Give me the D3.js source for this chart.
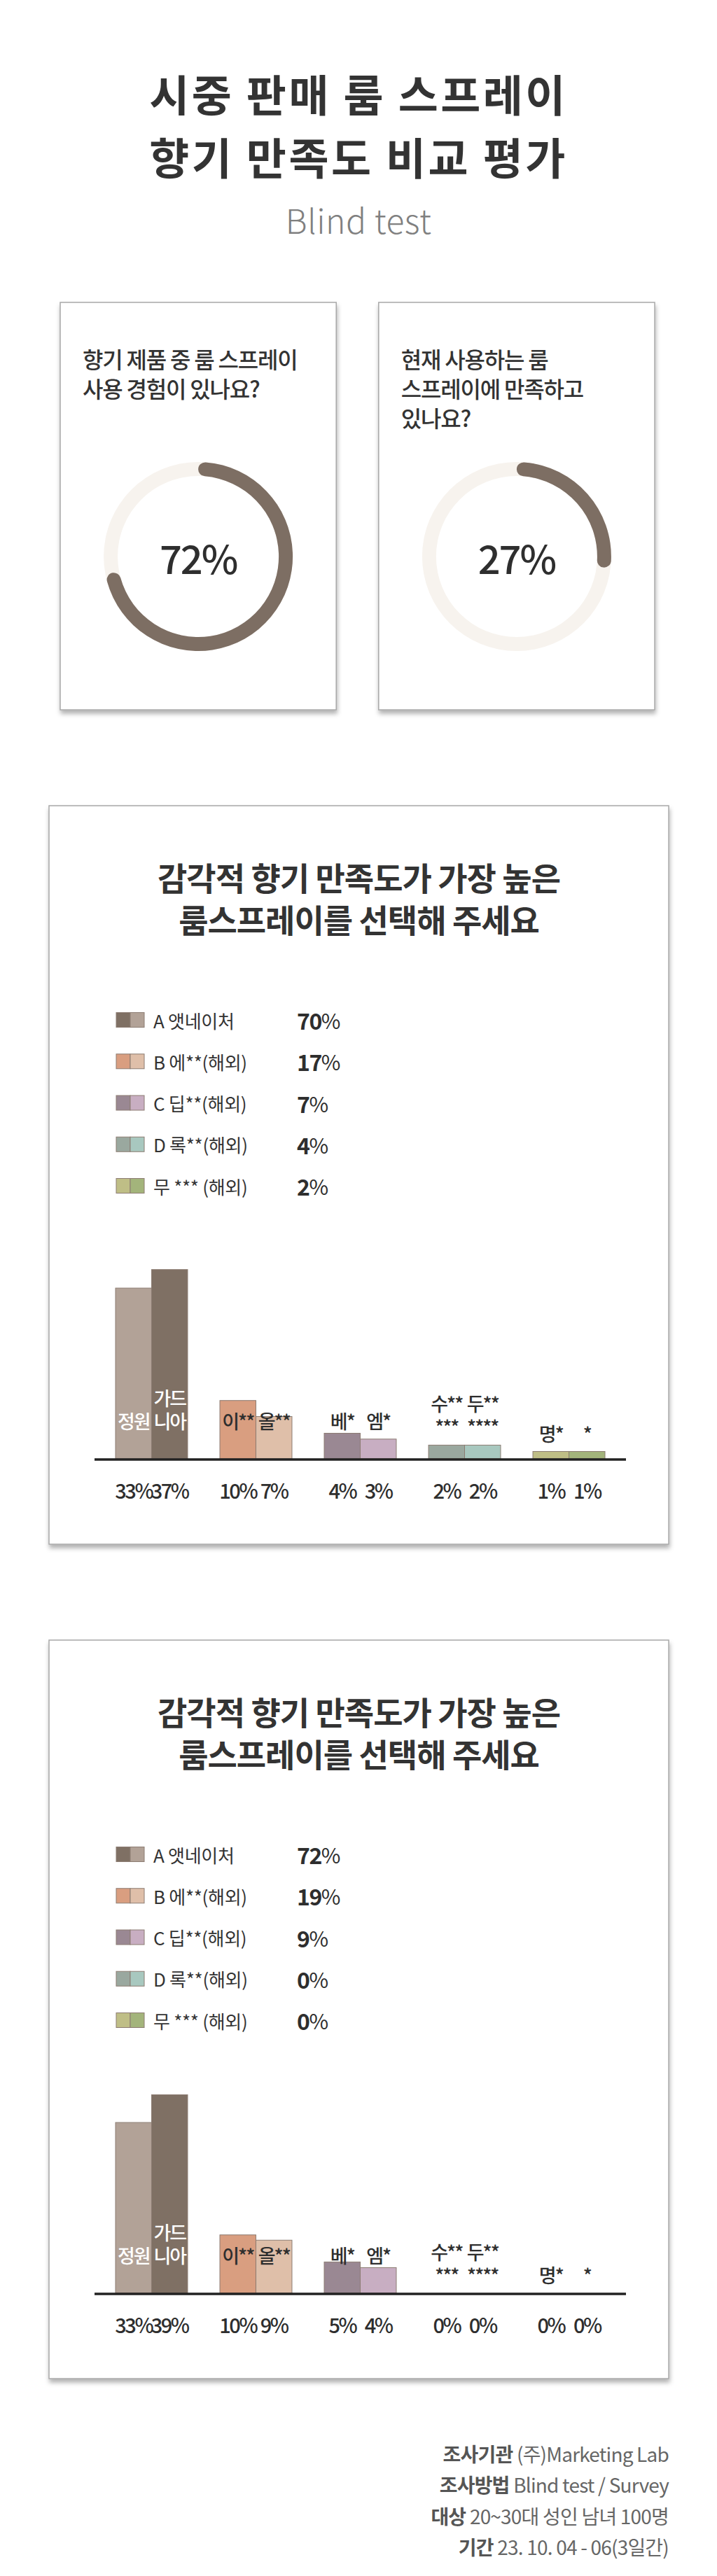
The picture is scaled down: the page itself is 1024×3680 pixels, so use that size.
<!DOCTYPE html>
<html>
<head>
<meta charset="utf-8">
<script src="https://cdn.jsdelivr.net/npm/d3@7"></script>
<style>
  html, body { margin: 0; padding: 0; background: #fff; }
  svg { display: block; }
  text { font-family: "Noto Sans CJK KR", "Noto Sans", sans-serif; }
</style>
</head>
<body>
<svg id="chart" width="1024" height="3680"></svg>
<script>
// ---------------- DATA ----------------
const pageTitle = ["시중 판매 룸 스프레이", "향기 만족도 비교 평가"];
const pageSubtitle = "Blind test";

const questionTexts = [
  ["향기 제품 중 룸 스프레이", "사용 경험이 있나요?"],
  ["현재 사용하는 룸", "스프레이에 만족하고", "있나요?"]
];
const questionValues = [72, 27];

const chartTitle = ["감각적 향기 만족도가 가장 높은", "룸스프레이를 선택해 주세요"];
const brands = ["A 앳네이처", "B 에**(해외)", "C 딥**(해외)", "D 록**(해외)", "무 *** (해외)"];
const brandShares1 = [70, 17, 7, 4, 2];
const brandShares2 = [72, 19, 9, 0, 0];
const swatchColors = [
  ["#7f7064", "#b2a297"],
  ["#d99e80", "#dfbfa9"],
  ["#9a8893", "#c8aec2"],
  ["#9aa89f", "#a8c8bf"],
  ["#bfbe86", "#a3b47b"]
];

const productGroups = ["A", "B", "C", "D", "E"];
const productGroupOf = ["A", "A", "B", "B", "C", "C", "D", "D", "E", "E"];
const productLabels = [["정원"], ["가드", "니아"], ["이**"], ["올**"], ["베*"], ["엠*"],
                       ["수**", "***"], ["두**", "****"], ["명*"], ["*"]];
const productValues1 = [33, 37, 10, 7, 4, 3, 2, 2, 1, 1];
const productValues2 = [33, 39, 10, 9, 5, 4, 0, 0, 0, 0];
const barColors = ["#b2a297", "#7f7064", "#d99e80", "#dfbfa9", "#9a8893",
                   "#c8aec2", "#9aa89f", "#a8c8bf", "#bfbe86", "#a3b47b"];
const whiteLabelProducts = [0, 1];

const footerLabels = ["조사기관", "조사방법", "대상", "기간"];
const footerValues = ["(주)Marketing Lab", "Blind test / Survey", "20~30대 성인 남녀 100명", "23. 10. 04 - 06(3일간)"];

// ---------------- DRAW ----------------
const svg = d3.select("#chart");
svg.append("rect").attr("width", 1024).attr("height", 3680).attr("fill", "#fff");

const defs = svg.append("defs");
const f = defs.append("filter").attr("id", "shadow")
  .attr("x", "-5%").attr("y", "-5%").attr("width", "110%").attr("height", "112%");
f.append("feDropShadow").attr("dx", 1).attr("dy", 5).attr("stdDeviation", 3)
  .attr("flood-color", "#000").attr("flood-opacity", 0.3);

// Title
svg.selectAll("text.title").data(pageTitle).join("text")
  .attr("class", "title")
  .attr("x", 512).attr("y", (d, i) => 133 + i * 90)
  .attr("text-anchor", "middle").attr("dominant-baseline", "central")
  .attr("font-size", 62).attr("font-weight", 700).attr("fill", "#333")
  .attr("letter-spacing", 3.5)
  .text(d => d);

svg.append("text")
  .attr("x", 512).attr("y", 313)
  .attr("text-anchor", "middle").attr("dominant-baseline", "central")
  .attr("font-family", "'Noto Sans', sans-serif")
  .attr("font-size", 48).attr("font-weight", 300).attr("fill", "#808080")
  .attr("letter-spacing", 0.5)
  .text(pageSubtitle);

// Question cards with donuts
const qCardX = d3.scaleBand().domain(d3.range(questionValues.length)).range([86, 935]).paddingInner(0.1332);
const cardTop = 432, cardH = 582;
const arcTrack = d3.arc().innerRadius(115).outerRadius(135).startAngle(0).endAngle(2 * Math.PI);
const arcVal = d3.arc().innerRadius(115).outerRadius(135).cornerRadius(10).startAngle(0);
const pct = d3.scaleLinear().domain([0, 100]).range([0, 2 * Math.PI]);

questionValues.forEach((v, i) => {
  const x0 = qCardX(i), w = qCardX.bandwidth();
  const g = svg.append("g");
  g.append("rect").attr("x", x0).attr("y", cardTop).attr("width", w).attr("height", cardH)
    .attr("fill", "#fff").attr("stroke", "#a8a8a8").attr("stroke-width", 1.5)
    .attr("filter", "url(#shadow)");
  g.selectAll("text.q").data(questionTexts[i]).join("text")
    .attr("class", "q")
    .attr("x", x0 + 32).attr("y", (d, j) => 512 + j * 42)
    .attr("dominant-baseline", "central")
    .attr("font-size", 32).attr("font-weight", 500).attr("fill", "#333")
    .attr("letter-spacing", -1.2)
    .text(d => d);
  const cx = x0 + w / 2, cy = 795;
  const dg = g.append("g").attr("transform", `translate(${cx},${cy})`);
  dg.append("path").attr("d", arcTrack()).attr("fill", "#f7f3ee");
  dg.append("path").attr("d", arcVal({ endAngle: pct(v) })).attr("fill", "#7d6e63");
  dg.append("text").attr("x", 0).attr("y", 0)
    .attr("text-anchor", "middle").attr("dominant-baseline", "central")
    .attr("font-size", 56).attr("font-weight", 500).attr("fill", "#2e2e2e")
    .attr("letter-spacing", -2)
    .text(v + "%");
});

// Bar chart cards
function drawChartCard(top, shares, values) {
  const left = 70, width = 885, height = 1055;
  const g = svg.append("g");
  g.append("rect").attr("x", left).attr("y", top).attr("width", width).attr("height", height)
    .attr("fill", "#fff").attr("stroke", "#a8a8a8").attr("stroke-width", 1.5)
    .attr("filter", "url(#shadow)");

  g.selectAll("text.ct").data(chartTitle).join("text")
    .attr("class", "ct")
    .attr("x", left + width / 2).attr("y", (d, i) => top + 101 + i * 60)
    .attr("text-anchor", "middle").attr("dominant-baseline", "central")
    .attr("font-size", 46).attr("font-weight", 700).attr("fill", "#333")
    .attr("letter-spacing", -1)
    .text(d => d);

  // Legend
  const rowY = d3.scalePoint().domain(brands).range([top + 306, top + 543]);
  const lg = g.selectAll("g.leg").data(brands).join("g").attr("class", "leg")
    .attr("transform", d => `translate(0,${rowY(d)})`);
  lg.each(function (d, i) {
    const s = d3.select(this);
    swatchColors[i].forEach((c, k) => {
      s.append("rect").attr("x", 166 + k * 20).attr("y", -10.5).attr("width", 20).attr("height", 21)
        .attr("fill", c).attr("stroke", "#8c7c72").attr("stroke-width", 1);
    });
  });
  lg.append("text").attr("x", 219).attr("y", 0).attr("dominant-baseline", "central")
    .attr("font-size", 26).attr("font-weight", 400).attr("fill", "#333")
    .attr("letter-spacing", -0.3)
    .text(d => d);
  const pt = lg.append("text").attr("x", 424).attr("y", 0).attr("dominant-baseline", "central")
    .attr("font-size", 32).attr("fill", "#2e2e2e").attr("letter-spacing", -1.5);
  pt.append("tspan").attr("font-weight", 700).text((d, i) => shares[i]);
  pt.append("tspan").attr("font-weight", 400).attr("font-size", 30).text("%");

  // Bars
  const baseline = top + 933;
  const x = d3.scaleBand().domain(productGroups).range([165, 864]).paddingInner(0.309).paddingOuter(0);
  const xs = d3.scaleBand().domain([0, 1]).range([0, x.bandwidth()]);
  const h = d3.scalePow().exponent(0.9).domain([0, 40]).range([0, 290]);
  const px = i => x(productGroupOf[i]) + xs(i % 2);

  const bars = d3.range(values.length);
  g.selectAll("rect.bar").data(bars.filter(i => values[i] > 0)).join("rect")
    .attr("class", "bar")
    .attr("x", i => px(i)).attr("width", xs.bandwidth())
    .attr("y", i => baseline - h(values[i])).attr("height", i => h(values[i]))
    .attr("fill", i => barColors[i]).attr("stroke", "#8c7c72").attr("stroke-width", 1);

  g.append("line").attr("x1", 135).attr("x2", 894).attr("y1", baseline + 1).attr("y2", baseline + 1)
    .attr("stroke", "#222").attr("stroke-width", 3.5);

  // labels on / above bars
  bars.forEach(i => {
    const lines = productLabels[i];
    const barTopRel = 933 - h(values[i]);
    const lastBase = top + Math.max(890, barTopRel - 15);
    const t = g.append("text")
      .attr("x", px(i) + xs.bandwidth() / 2)
      .attr("text-anchor", "middle")
      .attr("font-size", 27).attr("font-weight", 500)
      .attr("fill", whiteLabelProducts.includes(i) ? "#fff" : "#2e2e2e")
      .attr("letter-spacing", -2);
    lines.forEach((ln, k) => {
      t.append("tspan").attr("x", px(i) + xs.bandwidth() / 2)
        .attr("y", lastBase - (lines.length - 1 - k) * 33)
        .text(ln);
    });
  });

  // percent labels
  g.selectAll("text.pv").data(bars).join("text").attr("class", "pv")
    .attr("x", i => px(i) + xs.bandwidth() / 2)
    .attr("y", top + 977)
    .attr("text-anchor", "middle").attr("dominant-baseline", "central")
    .attr("font-size", 29).attr("font-weight", 500).attr("fill", "#2e2e2e")
    .attr("letter-spacing", -2.5)
    .text(i => values[i] + "%");
}

drawChartCard(1151, brandShares1, productValues1);
drawChartCard(2343, brandShares2, productValues2);

// Footer
const fy = d3.scalePoint().domain(footerLabels).range([3505, 3638]);
const ft = svg.selectAll("text.ft").data(footerLabels).join("text").attr("class", "ft")
  .attr("x", 955).attr("y", d => fy(d))
  .attr("text-anchor", "end").attr("dominant-baseline", "central")
  .attr("font-size", 28).attr("letter-spacing", -0.8);
ft.append("tspan").attr("font-weight", 700).attr("fill", "#555").text(d => d + " ");
ft.append("tspan").attr("font-weight", 400).attr("fill", "#666").text((d, i) => footerValues[i]);
</script>
</body>
</html>
